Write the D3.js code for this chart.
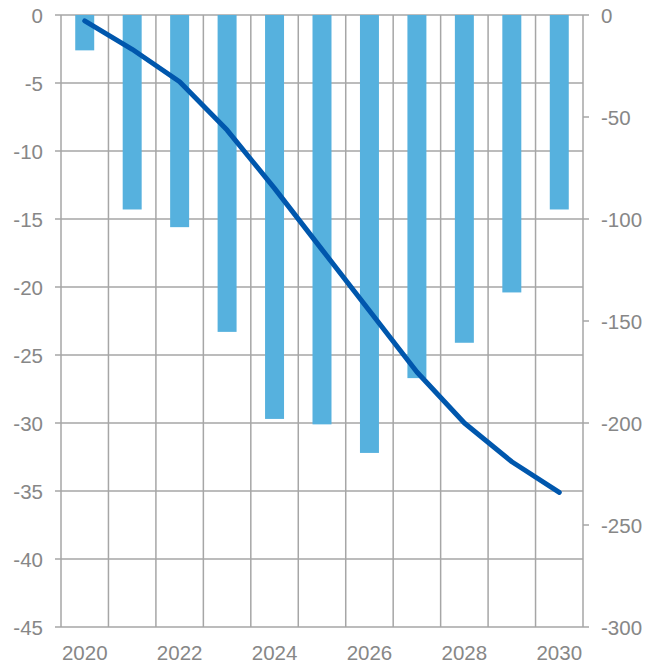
<!DOCTYPE html>
<html>
<head>
<meta charset="utf-8">
<script src="https://cdn.jsdelivr.net/npm/d3@7"></script>
<style>
  html, body { margin: 0; padding: 0; background: #fff; }
  svg { display: block; }
  text { font-family: "Liberation Sans", Arial, sans-serif; font-size: 20.5px; fill: #878787; }
</style>
</head>
<body>
<svg id="chart" width="647" height="663"></svg>
<script>
const years = [2020, 2021, 2022, 2023, 2024, 2025, 2026, 2027, 2028, 2029, 2030];
const barValues = [-2.6, -14.3, -15.6, -23.3, -29.7, -30.1, -32.2, -26.7, -24.1, -20.4, -14.3];
const lineValues = [-2.9, -16.8, -32.7, -56.4, -85, -115, -145, -175, -200, -219, -234];
const leftTicks = [0, -5, -10, -15, -20, -25, -30, -35, -40, -45];
const rightTicks = [0, -50, -100, -150, -200, -250, -300];
const xLabelYears = [2020, 2022, 2024, 2026, 2028, 2030];

const svg = d3.select("#chart");
const plotLeft = 61, plotRight = 583, plotTop = 15, plotBottom = 627;

const x = d3.scaleBand().domain(years).range([plotLeft, plotRight]).paddingInner(0).paddingOuter(0);
const yL = d3.scaleLinear().domain([0, -45]).range([plotTop, plotBottom]);
const yR = d3.scaleLinear().domain([0, -300]).range([plotTop, plotBottom]);
const barW = x.bandwidth() * 0.4;
const gridColor = "#a6a6a6";

// vertical grid lines at band boundaries
const bounds = years.map(d => x(d)).concat([plotRight]);
svg.append("g").selectAll("line").data(bounds).join("line")
  .attr("x1", d => d).attr("x2", d => d)
  .attr("y1", plotTop).attr("y2", plotBottom)
  .attr("stroke", gridColor).attr("stroke-width", 1.5);

// horizontal grid lines (left axis ticks, extend outward to left)
svg.append("g").selectAll("line").data(leftTicks).join("line")
  .attr("x1", plotLeft - 6).attr("x2", plotRight)
  .attr("y1", d => yL(d)).attr("y2", d => yL(d))
  .attr("stroke", gridColor).attr("stroke-width", 1.5);

// right axis tick marks
svg.append("g").selectAll("line").data(rightTicks).join("line")
  .attr("x1", plotRight).attr("x2", plotRight + 6)
  .attr("y1", d => yR(d)).attr("y2", d => yR(d))
  .attr("stroke", gridColor).attr("stroke-width", 1.5);

// bars
svg.append("g").selectAll("rect").data(years).join("rect")
  .attr("x", (d) => x(d) + (x.bandwidth() - barW) / 2)
  .attr("y", yL(0))
  .attr("width", barW)
  .attr("height", (d, i) => yL(barValues[i]) - yL(0))
  .attr("fill", "#56b1de");

// line
const line = d3.line()
  .x((d, i) => x(years[i]) + x.bandwidth() / 2)
  .y(d => yR(d));
svg.append("path").datum(lineValues)
  .attr("d", line)
  .attr("fill", "none")
  .attr("stroke", "#0057ad")
  .attr("stroke-width", 5)
  .attr("stroke-linecap", "round")
  .attr("stroke-linejoin", "round");

// left labels
svg.append("g").selectAll("text").data(leftTicks).join("text")
  .attr("x", 43).attr("y", d => yL(d))
  .attr("text-anchor", "end").attr("dominant-baseline", "central")
  .text(d => d);

// right labels
svg.append("g").selectAll("text").data(rightTicks).join("text")
  .attr("x", 601).attr("y", d => yR(d))
  .attr("text-anchor", "start").attr("dominant-baseline", "central")
  .text(d => d);

// x labels
svg.append("g").selectAll("text").data(xLabelYears).join("text")
  .attr("x", d => x(d) + x.bandwidth() / 2).attr("y", 652)
  .attr("text-anchor", "middle").attr("dominant-baseline", "central")
  .text(d => d);
</script>
</body>
</html>
